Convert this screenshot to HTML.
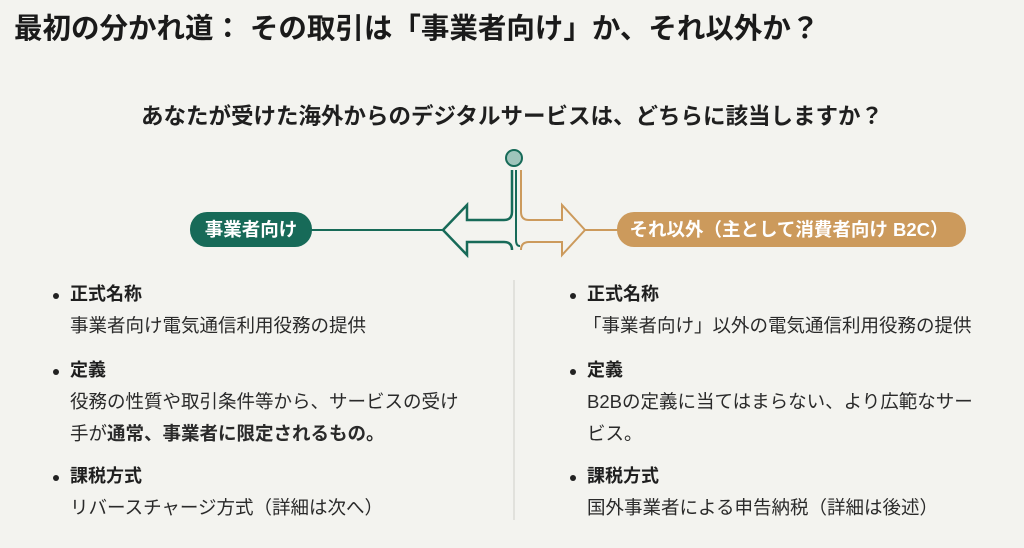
<!DOCTYPE html>
<html><head><meta charset="utf-8"><style>
body{margin:0;width:1024px;height:548px;background:#f3f3ef;font-family:"Liberation Sans","Noto Sans CJK JP",sans-serif;color:#1f1f1f;position:relative;overflow:hidden}
.t{position:absolute;white-space:nowrap;line-height:1.2}
h1{position:absolute;left:14px;top:12px;margin:0;font-size:28.5px;line-height:1.2;font-weight:bold;color:#1a1a1a;white-space:nowrap}
.sub{left:0;width:1024px;text-align:center;top:103px;font-size:22.5px;font-weight:bold}
.h{font-size:18px;font-weight:bold}
.b{font-size:18.5px;color:#2a2a2a}
.dot{position:absolute;width:6px;height:6px;border-radius:3px;background:#222}
</style></head><body>
<h1>最初の分かれ道： その取引は「事業者向け」か、それ以外か？</h1>
<div class="t sub">あなたが受けた海外からのデジタルサービスは、どちらに該当しますか？</div>
<svg width="1024" height="548" style="position:absolute;left:0;top:0">
<line x1="310" y1="230" x2="445" y2="230" stroke="#176a58" stroke-width="2"/>
<line x1="583" y1="230" x2="620" y2="230" stroke="#cc9a5c" stroke-width="2"/>
<path d="M521,170 V212 Q521,220 529,220 H562 V205 L585,230 L562,255 V242 H529 Q521,242 521,250" fill="#f3f3ef" stroke="#cc9a5c" stroke-width="2"/>
<path d="M512,170 V212 Q512,220 504,220 H467 V205 L443,230 L467,255 V242 H504 Q512,242 512,250" fill="#f3f3ef" stroke="#176a58" stroke-width="2.5"/>
<path d="M516,170 V240 Q516,246 520,246" fill="none" stroke="#176a58" stroke-width="2"/>
<circle cx="514" cy="158" r="8" fill="#9fc4bb" stroke="#176a58" stroke-width="2"/>
<rect x="190" y="212" width="122" height="35" rx="17" fill="#176a58"/>
<text x="251" y="236" text-anchor="middle" font-size="18.5" font-weight="bold" fill="#fff" font-family="Liberation Sans,Noto Sans CJK JP,sans-serif">事業者向け</text>
<rect x="617" y="212" width="349" height="35" rx="17" fill="#cc9a5c"/>
<text x="789" y="236" text-anchor="middle" font-size="18.5" font-weight="bold" fill="#fff" font-family="Liberation Sans,Noto Sans CJK JP,sans-serif">それ以外（主として消費者向け B2C）</text>
<line x1="514" y1="280" x2="514" y2="520" stroke="#cfcfca" stroke-width="1"/>
</svg>
<div class="dot" style="left:53px;top:293px"></div>
<div class="t h" style="left:70px;top:284px">正式名称</div>
<div class="t b" style="left:70px;top:315px">事業者向け電気通信利用役務の提供</div>
<div class="dot" style="left:53px;top:369px"></div>
<div class="t h" style="left:70px;top:360px">定義</div>
<div class="t b" style="left:70px;top:391px">役務の性質や取引条件等から、サービスの受け</div>
<div class="t b" style="left:70px;top:423px">手が<b>通常、事業者に限定されるもの。</b></div>
<div class="dot" style="left:53px;top:475px"></div>
<div class="t h" style="left:70px;top:466px">課税方式</div>
<div class="t b" style="left:70px;top:497px">リバースチャージ方式（詳細は次へ）</div>
<div class="dot" style="left:570px;top:293px"></div>
<div class="t h" style="left:587px;top:284px">正式名称</div>
<div class="t b" style="left:583px;top:315px">「事業者向け」以外の電気通信利用役務の提供</div>
<div class="dot" style="left:570px;top:369px"></div>
<div class="t h" style="left:587px;top:360px">定義</div>
<div class="t b" style="left:587px;top:391px">B2Bの定義に当てはまらない、より広範なサー</div>
<div class="t b" style="left:587px;top:423px">ビス。</div>
<div class="dot" style="left:570px;top:475px"></div>
<div class="t h" style="left:587px;top:466px">課税方式</div>
<div class="t b" style="left:587px;top:497px">国外事業者による申告納税（詳細は後述）</div>
</body></html>
